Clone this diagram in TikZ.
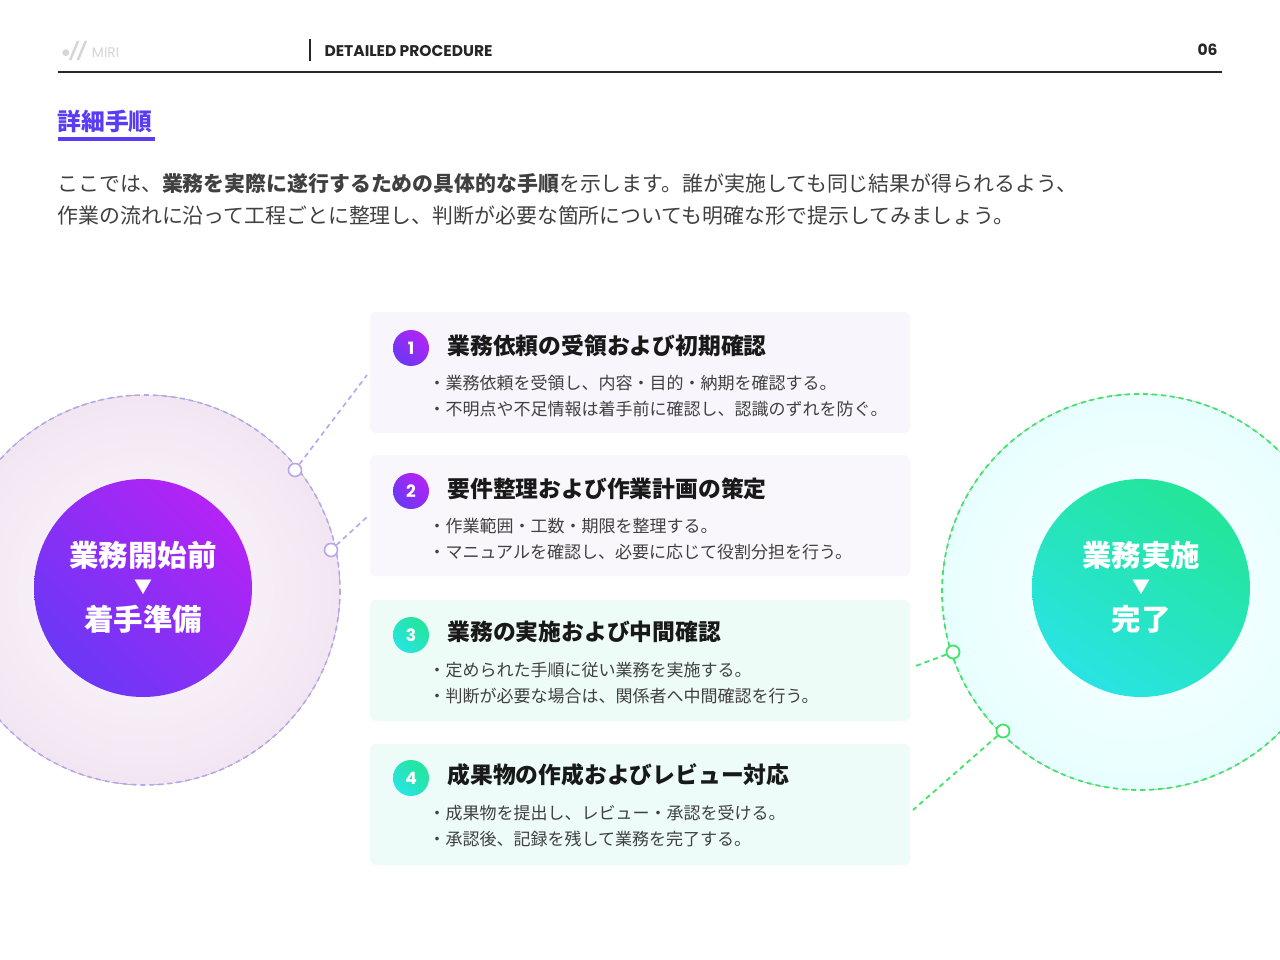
\documentclass[tikz,border=0pt]{standalone}
\usepackage{fontspec}
\usetikzlibrary{shadings}
\setmainfont{Noto Sans CJK JP}
\newfontfamily\hdr{Poppins}
\newcommand\jpb{\bfseries}
\begin{document}
\begin{tikzpicture}[x=1pt,y=-1pt,
  card/.style={fill=#1,draw=none,rounded corners=6pt},
  ttl/.style={anchor=west,font=\jpb\fontsize{22.8}{24}\selectfont,text=black!90},
  bul/.style={anchor=west,font=\fontsize{17}{18}\selectfont,text=black!75},
  num/.style={circle,minimum size=36pt,inner sep=0pt,text=white,font=\hdr\bfseries\fontsize{17}{18}\selectfont},
  ctext/.style={font=\jpb\fontsize{29.5}{32}\selectfont,text=white},
  dashv/.style={draw=violet!35!blue!35,line width=1.6pt,dash pattern=on 5pt off 4pt},
  dashg/.style={draw=gL,line width=1.8pt,dash pattern=on 5pt off 4pt},
  ringv/.style={circle,draw=violet!40!blue!35,line width=1.6pt,fill=white,minimum size=13pt,inner sep=0pt},
  ringg/.style={circle,draw=gL,line width=1.8pt,fill=white,minimum size=13pt,inner sep=0pt}]
\definecolor{vA}{HTML}{5B3CF5}\definecolor{vB}{HTML}{C21FF5}
\definecolor{gA}{HTML}{2AE3F2}\definecolor{gB}{HTML}{22E68A}
\definecolor{gL}{HTML}{40E46A}
\useasboundingbox (0,0) rectangle (1280,960);
\fill[white] (0,0) rectangle (1280,960);
% header
\node[anchor=west,font=\hdr\fontsize{17}{18}\selectfont,text=black!16] (logo) at (58,51) {$\bullet$\textit{\textbf{//}} {\fontsize{14}{15}\selectfont MIRI}};
\draw[black!85,line width=1.3pt] (310,39) -- (310,61);
\node[anchor=west,font=\hdr\bfseries\fontsize{15.5}{16}\selectfont,text=black!85] (sec) at (321,51) {DETAILED PROCEDURE};
\node[anchor=east,font=\hdr\bfseries\fontsize{15.5}{16}\selectfont,text=black!85] (pg) at (1221,50) {06};
\draw[black!85,line width=1.3pt] (58,72) -- (1222,72);
\node[anchor=west,font=\jpb\fontsize{23.8}{25}\selectfont,text=vA] (h) at (54,121) {詳細手順};
\fill[vA] (58,137) rectangle (155,141);
\node[anchor=west,font=\fontsize{20.9}{22}\selectfont,text=black!75] (d1) at (54,184) {ここでは、{\jpb 業務を実際に遂行するための具体的な手順}を示します。誰が実施しても同じ結果が得られるよう、};
\node[anchor=west,font=\fontsize{20.9}{22}\selectfont,text=black!75] (d2) at (54,216) {作業の流れに沿って工程ごとに整理し、判断が必要な箇所についても明確な形で提示してみましょう。};
% left circle
\fill[inner color=violet!2,outer color=violet!10] (145,590) circle (195);
\draw[dashv] (145,590) circle (195);
\shade[lower left=vA,upper right=vB,lower right=vA!50!vB,upper left=vA!50!vB] (143,588) circle (109);
\node[ctext] (lc1) at (143,555) {業務開始前};
\node[ctext,font=\fontsize{18}{18}\selectfont] (lc2) at (143,587) {▼};
\node[ctext] (lc3) at (143,619) {着手準備};
% right circle
\fill[inner color=cyan!2,outer color=cyan!9] (1140,592) circle (198);
\draw[dashg] (1140,592) circle (198);
\shade[lower left=gA,upper right=gB,lower right=gA!60!gB,upper left=gA!40!gB] (1141,588) circle (109);
\node[ctext] (rc1) at (1141,555) {業務実施};
\node[ctext,font=\fontsize{18}{18}\selectfont] (rc2) at (1141,587) {▼};
\node[ctext] (rc3) at (1141,619) {完了};
% cards
\definecolor{k1}{HTML}{F8F6FC}\definecolor{k2}{HTML}{F9F7FC}
\definecolor{k3}{HTML}{EEFCF7}\definecolor{k4}{HTML}{EDFBF9}
\foreach \i/\y/\c in {1/312/k1,2/455/k2,3/600/k3,4/744/k4}{
  \fill[card=\c] (370,\y) rectangle (910,\y+121);
}
\coordinate (c1) at (367,375); \coordinate (c2) at (367,517);
\coordinate (c3) at (913,667); \coordinate (c4) at (913,810);
\node[ringv] (p1) at (295,470) {}; \node[ringv] (p2) at (331,550) {};
\node[ringg] (q1) at (953,652) {}; \node[ringg] (q2) at (1003,731) {};
\draw[dashv] (p1) -- (c1); \draw[dashv] (p2) -- (c2);
\draw[dashg] (q1) -- (c3); \draw[dashg] (q2) -- (c4);
% numbers
\foreach \i/\y/\a/\b in {1/348/vA/vB,2/491/vA/vB,3/635/gA/gB,4/778/gA/gB}{
  \shade[lower left=\a,upper right=\b,lower right=\a!50!\b,upper left=\a!50!\b] (411,\y) circle (18);
  \node[num] (n\i) at (411,\y) {\i};
}
\node[ttl] (t1) at (444,346) {業務依頼の受領および初期確認};
\node[bul] (b11) at (425,383) {・業務依頼を受領し、内容・目的・納期を確認する。};
\node[bul] (b12) at (425,409) {・不明点や不足情報は着手前に確認し、認識のずれを防ぐ。};
\node[ttl] (t2) at (444,489) {要件整理および作業計画の策定};
\node[bul] (b21) at (425,526) {・作業範囲・工数・期限を整理する。};
\node[bul] (b22) at (425,552) {・マニュアルを確認し、必要に応じて役割分担を行う。};
\node[ttl] (t3) at (444,632) {業務の実施および中間確認};
\node[bul] (b31) at (425,670) {・定められた手順に従い業務を実施する。};
\node[bul] (b32) at (425,696) {・判断が必要な場合は、関係者へ中間確認を行う。};
\node[ttl] (t4) at (444,775) {成果物の作成およびレビュー対応};
\node[bul] (b41) at (425,813) {・成果物を提出し、レビュー・承認を受ける。};
\node[bul] (b42) at (425,839) {・承認後、記録を残して業務を完了する。};
\end{tikzpicture}
\end{document}
